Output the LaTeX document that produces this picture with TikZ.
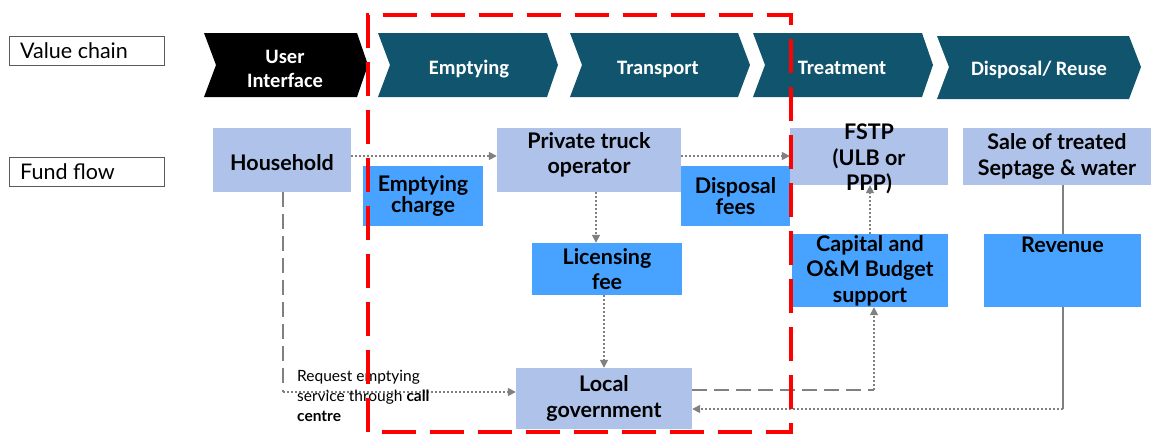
\documentclass[tikz,border=0pt]{standalone}
\usepackage{fontspec}
\setmainfont{Lato}
\newfontfamily\chevfont{Carlito}
\usetikzlibrary{arrows.meta}
\definecolor{lightb}{RGB}{174,194,234}
\definecolor{medb}{RGB}{71,163,255}
\definecolor{teal}{RGB}{17,84,110}
\definecolor{linegray}{RGB}{128,128,128}
\definecolor{framegray}{RGB}{90,90,90}
\tikzset{
  boxtxt/.style={align=center, inner sep=0pt, font=\fontsize{21.5}{25.5}\selectfont\bfseries, text=black},
  lbox/.style={boxtxt, fill=lightb},
  mbox/.style={boxtxt, fill=medb},
  chevtxt/.style={align=center, inner sep=0pt, text=white, font=\chevfont\fontsize{20.5}{24}\selectfont\bfseries},
  sidelabel/.style={draw=framegray, line width=0.8pt, minimum width=155pt, minimum height=29pt, inner sep=0pt},
  sidetxt/.style={anchor=west, inner sep=0pt, font=\fontsize{21.5}{25}\selectfont},
  conn/.style={draw=linegray, line width=1.6pt},
  dotline/.style={conn, dash pattern=on 1.6pt off 2.4pt},
  dotarrow/.style={dotline, -{Triangle[length=8pt,width=8pt]}},
  dashline/.style={conn, line width=2pt, dash pattern=on 15pt off 7pt},
  redframe/.style={draw=red, line width=4pt, dash pattern=on 34pt off 14pt},
}
\begin{document}
\begin{tikzpicture}[x=1pt,y=-1pt]
\useasboundingbox (0,0) rectangle (1152,434);

% side labels
\node[sidelabel] (vc) at (86.5,50.5) {};
\node[sidetxt] (vct) at (20,50.5) {Value chain};
\node[sidelabel] (ff) at (86.5,171.5) {};
\node[sidetxt] (fft) at (20,172) {Fund flow};

% chevrons
\fill[black] (204,33) -- (357,33) -- (368,65) -- (357,97) -- (204,97) -- (216,65) -- cycle;
\node[chevtxt] (ui) at (285,69) {User\\Interface};
\fill[teal] (378,33) -- (547,33) -- (558,65) -- (547,97) -- (378,97) -- (390,65) -- cycle;
\node[chevtxt] (em) at (469,69) {Emptying};
\fill[teal] (570,33) -- (738,33) -- (750,65) -- (738,97) -- (570,97) -- (582,65) -- cycle;
\node[chevtxt] (tr) at (658,69) {Transport};
\fill[teal] (753,33) -- (922,33) -- (933,65) -- (922,97) -- (753,97) -- (765,65) -- cycle;
\node[chevtxt] (tm) at (842,68) {Treatment};
\fill[teal] (937,36) -- (1129,36) -- (1141,67) -- (1129,99) -- (937,99) -- (949,67) -- cycle;
\node[chevtxt] (dr) at (1039,70) {Disposal/ Reuse};

% boxes
\node[lbox, minimum width=138pt, minimum height=64pt, text height=20pt, text depth=0pt] (hh) at (282,160) {Household};
\node[lbox, minimum width=184pt, minimum height=64pt] (pt) at (589,160) {Private truck\\operator\\[-12pt]};
\node[lbox, minimum width=158pt, minimum height=57pt] (fstp) at (869,156.5) {};
\node[boxtxt] (fstpt) at (869,159) {FSTP\\(ULB or\\PPP)};
\node[lbox, minimum width=188pt, minimum height=57pt] (sale) at (1057,156.5) {Sale of treated\\Septage \& water};
\node[lbox, minimum width=176pt, minimum height=61pt] (lg) at (604,398.5) {Local\\government};
\node[mbox, minimum width=120pt, minimum height=60pt] (ec) at (423,196) {Emptying\\[-4pt]charge};
\node[mbox, minimum width=109pt, minimum height=60pt] (df) at (735.5,196) {Disposal\\[-4pt]fees};
\node[mbox, minimum width=150pt, minimum height=52pt] (lic) at (607,269) {Licensing\\fee};
\node[mbox, minimum width=156pt, minimum height=73pt] (cap) at (870,270.5) {Capital and\\O\&M Budget\\support};
\node[mbox, minimum width=157pt, minimum height=73pt] (rev) at (1062.5,270.5) {Revenue\\\mbox{}\\\mbox{}};

% connectors
\draw[dotarrow] ([yshift=4pt]hh.east) -- ([yshift=4pt]pt.west);
\draw[dotarrow] ([yshift=4pt]pt.east) -- ([yshift=4pt]pt.east -| fstp.west);
\draw[dotarrow] ([xshift=7pt]pt.south) -- ([xshift=7pt]pt.south |- lic.north);
\draw[dotarrow] (lic.south -| lg.north) -- (lg.north);

\coordinate (c1) at (283,392);
\draw[dashline] (hh.south -| c1) -- (c1);
\draw[dotarrow] (c1) -- (c1 -| lg.west);

\coordinate (c2) at (874,390);
\draw[dashline] (c2 -| lg.east) -- (c2);
\draw[dotarrow] (c2) -- (c2 |- cap.south);
\draw[dotarrow] (cap.north) -- (cap.north |- fstp.south);

\coordinate (c3) at (1063,409);
\draw[conn] (c3 |- sale.south) -- (c3 |- rev.north);
\draw[conn] (c3 |- rev.south) -- (c3);
\draw[dotarrow] (c3) -- (c3 -| lg.east);

% label
\node[anchor=north west, align=left, inner sep=0pt, font=\fontsize{15.5}{20}\selectfont] (req) at (297,370)
  {Request emptying\\service through \textbf{call}\\\textbf{centre}};

% red frame
\draw[redframe] (368,432) -- (368,15) -- (791,15) -- (791,432) -- cycle;
\end{tikzpicture}
\end{document}
